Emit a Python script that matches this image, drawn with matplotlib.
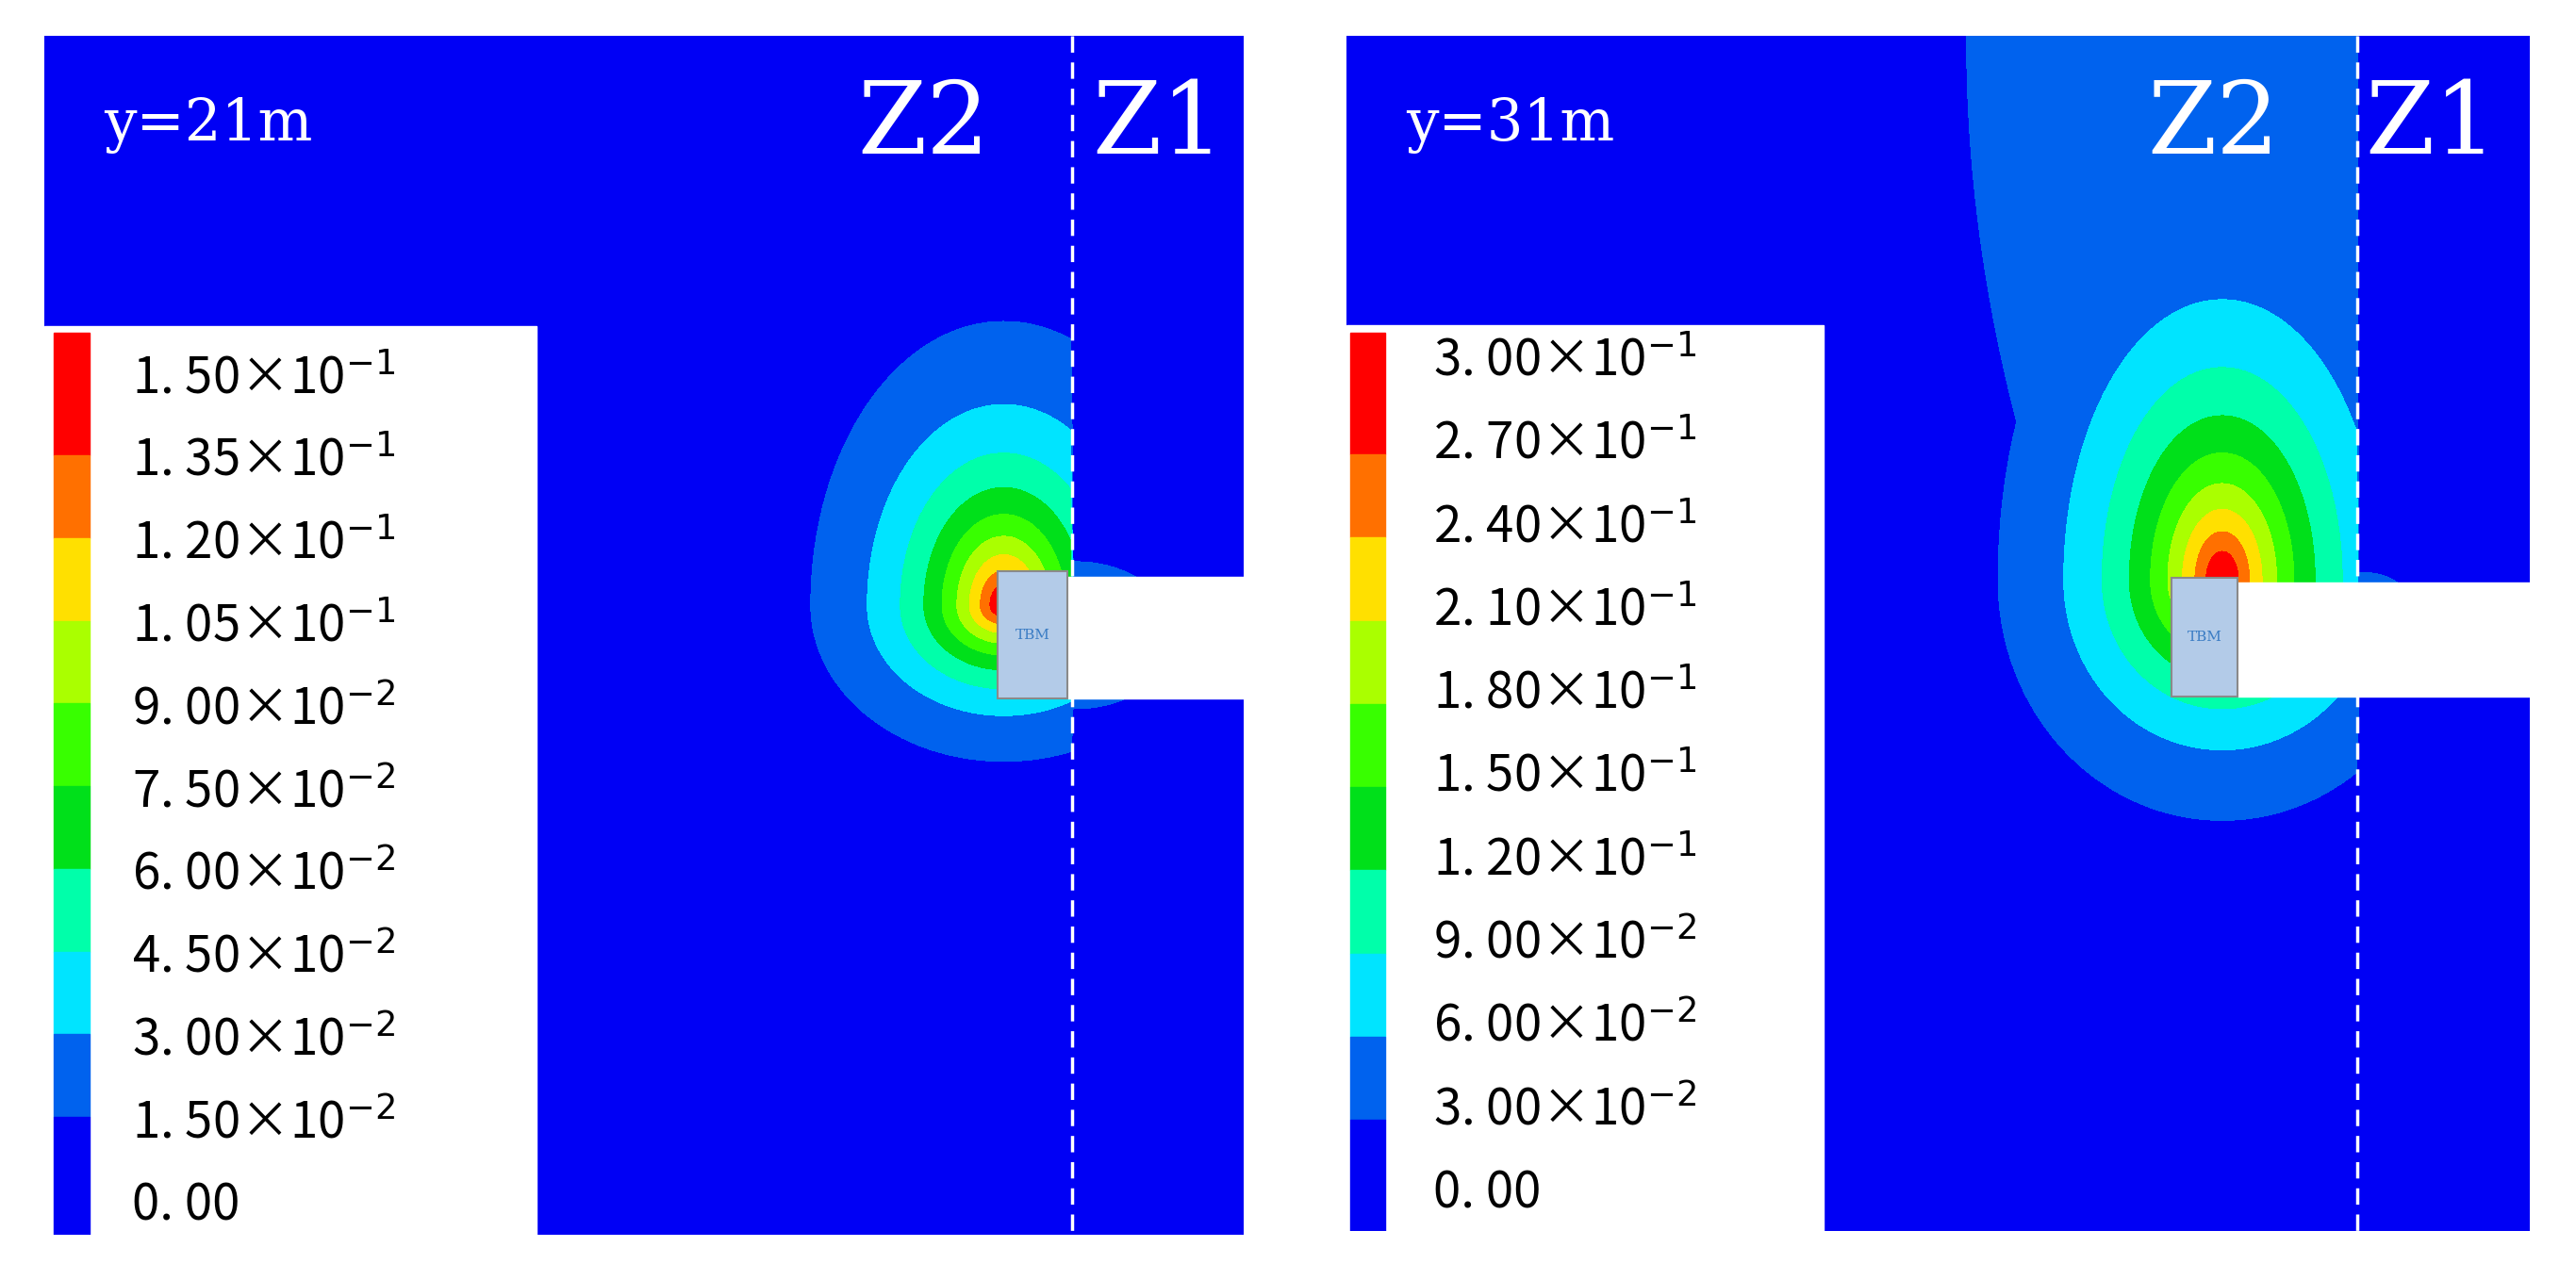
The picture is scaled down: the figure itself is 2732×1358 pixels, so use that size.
import numpy as np
import matplotlib.pyplot as plt
from matplotlib.patches import Rectangle

# contour colours, bottom to top
colors = ['#0000f5', '#0062ee', '#00e4ff', '#00ffaa', '#00e01a',
          '#38ff00', '#aaff00', '#ffe000', '#ff7000', '#ff0000']

# level values of the two panels
levels_21 = [0.0, 0.015, 0.03, 0.045, 0.06, 0.075, 0.09, 0.105, 0.12, 0.135, 0.15]
levels_31 = [0.0, 0.03, 0.06, 0.09, 0.12, 0.15, 0.18, 0.21, 0.24, 0.27, 0.30]
labels_21 = ['0. 00', '1. 50×10$^{-2}$', '3. 00×10$^{-2}$', '4. 50×10$^{-2}$', '6. 00×10$^{-2}$',
             '7. 50×10$^{-2}$', '9. 00×10$^{-2}$', '1. 05×10$^{-1}$', '1. 20×10$^{-1}$',
             '1. 35×10$^{-1}$', '1. 50×10$^{-1}$']
labels_31 = ['0. 00', '3. 00×10$^{-2}$', '6. 00×10$^{-2}$', '9. 00×10$^{-2}$', '1. 20×10$^{-1}$',
             '1. 50×10$^{-1}$', '1. 80×10$^{-1}$', '2. 10×10$^{-1}$', '2. 40×10$^{-1}$',
             '2. 70×10$^{-1}$', '3. 00×10$^{-1}$']

# blob parameters: [peak, cx, cy, Lx, Ly_up, Ly_down]  (y measured from top)
blob_21 = [0.16, 0.80, 0.475, 0.068, 0.10, 0.055]
blob_31 = [0.32, 0.74, 0.455, 0.08, 0.14, 0.085]
z1_21 = [0.025, 0.86, 0.50, 0.16, 0.12, 0.12]
z1_31 = [0.05, 0.86, 0.50, 0.10, 0.10, 0.10]
plume_31 = [0.045, 0.517, 0.64, 0.55]   # value, top edge x, edge x at tunnel, bottom y

# geometry: TBM box [x0, x1, y0, y1], dash x, legend box width, label top/step
geo_21 = dict(tbm=[0.795, 0.853, 0.447, 0.553], dash=0.857, box=0.41, lab0=0.286, step=0.069,
              cb=[0.008, 0.038], title='y=21m', z2=0.733, z1=0.929)
geo_31 = dict(tbm=[0.697, 0.753, 0.453, 0.553], dash=0.854, box=0.403, lab0=0.272, step=0.0696,
              cb=[0.003, 0.033], title='y=31m', z2=0.733, z1=0.917)


def blob(X, Y, p):
    a, cx, cy, lx, lu, ld = p
    ly = np.where(Y < cy, lu, ld)
    d = np.sqrt(((X - cx) / lx) ** 2 + ((Y - cy) / ly) ** 2)
    return a * np.exp(-d)


def field(X, Y, b, z, dash, plume=None):
    f = np.where(X < dash, blob(X, Y, b), 0.0)
    if plume is not None:
        v, xt, xm, yb = plume
        t = np.clip(Y / yb, 0, 1)
        edge = xt + (xm - xt) * t ** 2
        p = v / (1 + np.exp(-(X - edge) / 0.01)) * (Y < yb)
        f = np.where(X < dash, np.maximum(f, p), f)
    f = np.where(X >= dash, np.maximum(f, blob(X, Y, z)), f)
    return f


fig = plt.figure(figsize=(27.32, 13.58), dpi=100)
ax1 = fig.add_axes([0.0172, 0.0354, 0.4656, 0.9367])
ax2 = fig.add_axes([0.5227, 0.038, 0.4594, 0.934])

x = np.linspace(0, 1, 500)
X, Y = np.meshgrid(x, x)

panels = [(ax1, levels_21, labels_21, blob_21, z1_21, None, geo_21),
          (ax2, levels_31, labels_31, blob_31, z1_31, plume_31, geo_31)]

for ax, lev, labs, b, z, pl, g in panels:
    F = field(X, Y, b, z, g['dash'], pl)
    bounds = [-1] + lev[1:-1] + [10]
    ax.contourf(X, Y, F, levels=bounds, colors=colors)
    ax.set_xlim(0, 1)
    ax.set_ylim(1, 0)
    ax.axis('off')
    x0, x1, y0, y1 = g['tbm']
    ax.add_patch(Rectangle((x1, y0 + 0.004), 1 - x1, y1 - y0 - 0.004, color='white', zorder=3))
    ax.add_patch(Rectangle((x0, y0), x1 - x0, y1 - y0, facecolor='#b3cbe8',
                           edgecolor='#8a8a8a', lw=1.5, zorder=4))
    ax.text((x0 + x1) / 2, (y0 + y1) / 2, 'TBM', color='#3a7cc4', fontsize=11,
            family='serif', ha='center', va='center', zorder=5)
    ax.plot([g['dash'], g['dash']], [0, 1], color='white', lw=2.5, ls=(0, (5, 3)), zorder=3)
    ax.text(0.05, 0.075, g['title'], color='white', fontsize=44, family='serif',
            va='center', ha='left')
    ax.text(g['z2'], 0.075, 'Z2', color='white', fontsize=76, family='serif', ha='center', va='center')
    ax.text(g['z1'], 0.075, 'Z1', color='white', fontsize=76, family='serif', ha='center', va='center')
    # legend box with colour bar
    top = 0.242
    ax.add_patch(Rectangle((0, top), g['box'], 1 - top, color='white', zorder=6))
    c0, c1 = g['cb']
    edges = [0.248, 0.35] + [0.35 + g['step'] * (i + 1) for i in range(8)] + [1.0]
    for i in range(10):
        ax.add_patch(Rectangle((c0, edges[i]), c1 - c0, edges[i + 1] - edges[i],
                               color=colors[9 - i], zorder=7))
    for i, lab in enumerate(labs[::-1]):
        ax.text(0.073, g['lab0'] + g['step'] * i, lab, fontsize=38, va='center', ha='left',
                family=['Noto Sans CJK SC', 'DejaVu Sans'], zorder=8)

fig.savefig('out.png', dpi=100)
